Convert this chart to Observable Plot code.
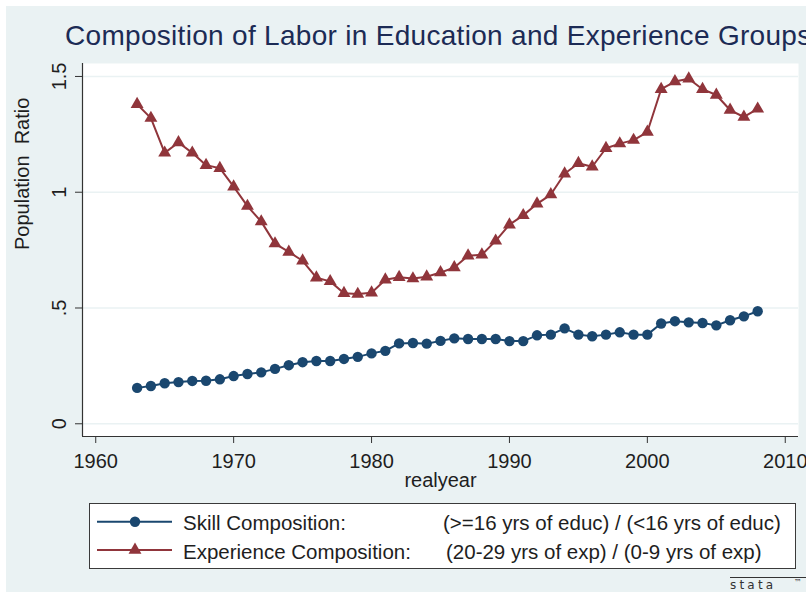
<!DOCTYPE html>
<html><head><meta charset="utf-8">
<script src="https://cdn.jsdelivr.net/npm/d3@7"></script>
<script src="https://cdn.jsdelivr.net/npm/@observablehq/plot@0.6"></script>
<style>
html,body{margin:0;padding:0;background:#fff;overflow:hidden;}
#wrap{position:relative;width:806px;height:592px;overflow:hidden;background:#fff;font-family:"Liberation Sans",Arial,Helvetica,sans-serif;}
#bg{position:absolute;left:6px;top:6px;width:800px;height:586px;background:#eaf2f3;}
#title{position:absolute;left:65px;top:22px;font-size:28px;line-height:28px;letter-spacing:0.3px;color:#1c2b55;white-space:nowrap;}
#plot{position:absolute;left:0;top:56px;}
#legend{position:absolute;left:89px;top:503px;}
#logo{position:absolute;left:728px;top:574px;}
svg text{white-space:pre;}
</style>
</head><body>
<div id="wrap">
  <div id="bg"></div>
  <div id="title">Composition of Labor in Education and Experience Groups</div>
  <div id="plot"></div>
  <div id="legend"></div>
  <div id="logo"></div>
</div>
<script>
const years = [1963,1964,1965,1966,1967,1968,1969,1970,1971,1972,1973,1974,1975,1976,1977,1978,1979,1980,1981,1982,1983,1984,1985,1986,1987,1988,1989,1990,1991,1992,1993,1994,1995,1996,1997,1998,1999,2000,2001,2002,2003,2004,2005,2006,2007,2008];
const skill = [0.155,0.163,0.175,0.180,0.185,0.186,0.192,0.206,0.215,0.222,0.237,0.253,0.266,0.271,0.271,0.280,0.289,0.304,0.315,0.347,0.349,0.346,0.358,0.369,0.366,0.366,0.366,0.357,0.357,0.382,0.385,0.412,0.385,0.378,0.385,0.395,0.385,0.385,0.433,0.443,0.438,0.435,0.425,0.447,0.464,0.486];
const experience = [1.38,1.32,1.17,1.215,1.17,1.117,1.104,1.024,0.94,0.873,0.778,0.742,0.704,0.631,0.615,0.564,0.56,0.566,0.622,0.633,0.627,0.635,0.653,0.675,0.726,0.73,0.79,0.86,0.90,0.95,0.99,1.08,1.125,1.11,1.19,1.21,1.225,1.26,1.445,1.478,1.49,1.445,1.42,1.355,1.325,1.36];
const xTicks = [1960,1970,1980,1990,2000,2010];
const yTicks = [0,0.5,1,1.5];
const yTickLabels = ["0",".5","1","1.5"];
const seriesNames = ["Skill Composition:","Experience Composition:"];
const seriesDetails = ["(>=16 yrs of educ) / (<16 yrs of educ)","(20-29 yrs of exp) / (0-9 yrs of exp)"];
const xTitle = "realyear";
const yTitle = "Population  Ratio";

const navy = "#1a476f", maroon = "#90353b", ink = "#1e1e1e", gridColor = "#eaf2f3";
const skillData = years.map((y,i)=>({year:y, v:skill[i]}));
const expData = years.map((y,i)=>({year:y, v:experience[i]}));
const xDom = [1959.04, 2010.96], yDom = [-0.055, 1.556];

const chart = Plot.plot({
  width: 806, height: 440,
  marginLeft: 82, marginRight: 8, marginTop: 7, marginBottom: 60,
  style: {background:"transparent", fontFamily:'"Liberation Sans",Arial,Helvetica,sans-serif', fontSize:"20px", color: ink},
  x: {domain: xDom},
  y: {domain: yDom},
  marks: [
    Plot.frame({fill:"white", stroke:"none"}),
    Plot.gridY(yTicks, {stroke: gridColor, strokeOpacity: 1, strokeWidth: 1.6}),
    Plot.ruleX([xDom[0]], {stroke: "#333", strokeWidth: 1.2}),
    Plot.ruleY([yDom[0]], {stroke: "#333", strokeWidth: 1.2}),
    Plot.axisX({ticks: xTicks, tickSize: 7, tickPadding: 10, tickFormat: "d", label: null, stroke: "#333"}),
    Plot.axisY({ticks: yTicks, tickSize: 7, tickPadding: 10, tickRotate: -90, tickFormat: d => yTickLabels[yTicks.indexOf(d)], label: null, stroke: "#333"}),
    Plot.line(skillData, {x:"year", y:"v", stroke: navy, strokeWidth: 2}),
    Plot.dot(skillData, {x:"year", y:"v", r: 5.2, fill: navy, stroke: "none", symbol: "circle"}),
    Plot.line(expData, {x:"year", y:"v", stroke: maroon, strokeWidth: 2}),
    Plot.dot(expData, {x:"year", y:"v", r: 4.8, fill: maroon, stroke: "none", symbol: "triangle"}),
    Plot.text([xTitle], {text: d => d, frameAnchor: "bottom", dy: 36, lineAnchor: "top", fill: ink}),
    Plot.text([yTitle], {text: d => d, frameAnchor: "left", rotate: -90, dx: -54, lineAnchor: "bottom", fill: ink})
  ]
});
document.getElementById("plot").appendChild(chart);

// Legend
const lg = d3.create("svg").attr("width", 708).attr("height", 67)
  .style("font-family", '"Liberation Sans",Arial,Helvetica,sans-serif').style("font-size","20.5px");
lg.append("rect").attr("x",0.5).attr("y",0.5).attr("width",706).attr("height",65).attr("fill","white").attr("stroke","#3a3a3a").attr("stroke-width",1);
const rows = [{c:navy, sym:d3.symbolCircle, r:5.2, ly:18.7, by:27, dx:354},{c:maroon, sym:d3.symbolTriangle, r:4.8, ly:47, by:56, dx:357}];
rows.forEach((row,i)=>{
  lg.append("line").attr("x1",8).attr("x2",83).attr("y1",row.ly).attr("y2",row.ly).attr("stroke",row.c).attr("stroke-width",2);
  lg.append("path").attr("d", d3.symbol(row.sym, Math.PI*row.r*row.r)()).attr("transform",`translate(46,${row.ly})`).attr("fill",row.c);
  lg.append("text").attr("x",94).attr("y",row.by).attr("fill",ink).text(seriesNames[i]);
  lg.append("text").attr("x",row.dx).attr("y",row.by).attr("fill",ink).text(seriesDetails[i]);
});
document.getElementById("legend").appendChild(lg.node());

// Stata logo
const lo = d3.create("svg").attr("width", 80).attr("height", 18);
lo.append("line").attr("x1",2).attr("x2",78).attr("y1",3.5).attr("y2",3.5).attr("stroke","#333").attr("stroke-width",1);
lo.append("text").attr("x",2).attr("y",15).attr("fill","#333").style("font-family","DejaVu Sans, sans-serif").style("font-size","12px").style("letter-spacing","3.2px").text("stata");
lo.append("text").attr("x",66).attr("y",11).attr("fill","#333").style("font-family","DejaVu Sans, sans-serif").style("font-size","8px").text("™");
document.getElementById("logo").appendChild(lo.node());
</script>
</body></html>
